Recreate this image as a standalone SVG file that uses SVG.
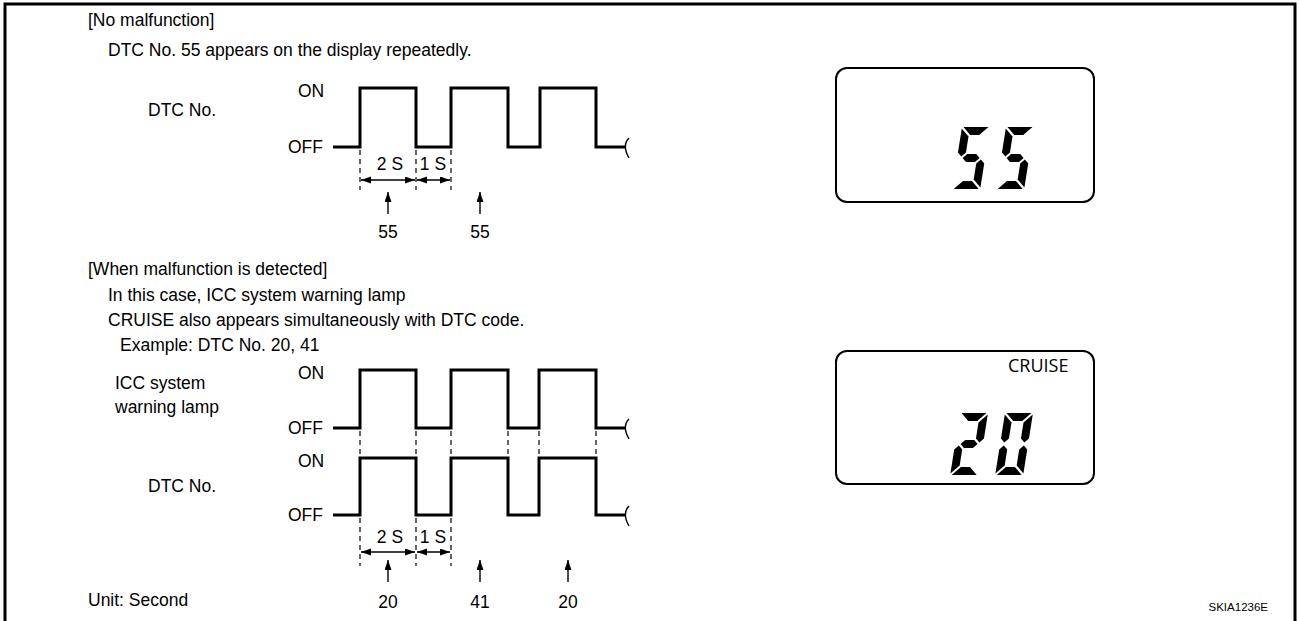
<svg xmlns="http://www.w3.org/2000/svg" width="1299" height="621" viewBox="0 0 1299 621">
<style>
  .t { font-family: "Liberation Sans", Arial, sans-serif; font-size: 17.5px; fill: #000; }
  .c { text-anchor: middle; }
  .wave { fill: none; stroke: #000; stroke-width: 3; stroke-linejoin: miter; }
  .dash { stroke: #000; stroke-width: 1.2; stroke-dasharray: 5 4; fill: none; }
  .arr { stroke: #000; stroke-width: 1.4; fill: none; }
  .brk { stroke: #000; stroke-width: 1.4; fill: none; }
  .box { fill: #fff; stroke: #000; stroke-width: 2; }
  .seg { fill: #000; }
</style>
<defs>
  <marker id="ah" markerUnits="userSpaceOnUse" markerWidth="11" markerHeight="8" refX="10" refY="3.5" orient="auto-start-reverse">
    <path d="M0,0 L10,3.5 L0,7 z" fill="#000"/>
  </marker>
  <g id="sa"><polygon points="1.5,0 26.5,0 18.5,8 9.5,8"/></g>
  <g id="sb"><polygon points="28,1.5 28,25.5 24,29.5 20,25.5 20,9.5"/></g>
  <g id="sc"><polygon points="20,36.5 24,32.5 28,36.5 28,60.5 20,52.5"/></g>
  <g id="sd"><polygon points="9.5,54 18.5,54 26.5,62 1.5,62"/></g>
  <g id="se"><polygon points="0,36.5 4,32.5 8,36.5 8,52.5 0,60.5"/></g>
  <g id="sf"><polygon points="0,1.5 8,9.5 8,25.5 4,29.5 0,25.5"/></g>
  <g id="sg"><polygon points="5.5,31 9.5,27 18.5,27 22.5,31 18.5,35 9.5,35"/></g>
  <g id="d5"><use href="#sa"/><use href="#sf"/><use href="#sg"/><use href="#sc"/><use href="#sd"/></g>
  <g id="d2"><use href="#sa"/><use href="#sb"/><use href="#sg"/><use href="#se"/><use href="#sd"/></g>
  <g id="d0"><use href="#sa"/><use href="#sb"/><use href="#sc"/><use href="#sd"/><use href="#se"/><use href="#sf"/></g>
</defs>
<rect width="1299" height="621" fill="#fff"/>
<g id="frame"><path d="M5,621 V4 H1295 V621" fill="none" stroke="#000" stroke-width="3"/></g>

<g id="section1-text">
  <text class="t" x="88" y="26">[No malfunction]</text>
  <text class="t" x="108" y="56">DTC No. 55 appears on the display repeatedly.</text>
  <text class="t" x="148" y="116">DTC No.</text>
  <text class="t" x="298" y="97">ON</text>
  <text class="t" x="288" y="153">OFF</text>
  <text class="t c" x="390" y="170">2 S</text>
  <text class="t c" x="433" y="170">1 S</text>
  <text class="t c" x="388" y="238">55</text>
  <text class="t c" x="480" y="238">55</text>
</g>

<g id="section2-text">
  <text class="t" x="88" y="275">[When malfunction is detected]</text>
  <text class="t" x="108" y="301">In this case, ICC system warning lamp</text>
  <text class="t" x="108" y="326">CRUISE also appears simultaneously with DTC code.</text>
  <text class="t" x="120" y="351">Example: DTC No. 20, 41</text>
  <text class="t" x="115" y="389">ICC system</text>
  <text class="t" x="115" y="413">warning lamp</text>
  <text class="t" x="298" y="379">ON</text>
  <text class="t" x="288" y="434">OFF</text>
  <text class="t" x="148" y="492">DTC No.</text>
  <text class="t" x="298" y="467">ON</text>
  <text class="t" x="288" y="521">OFF</text>
  <text class="t c" x="390" y="543">2 S</text>
  <text class="t c" x="433" y="543">1 S</text>
  <text class="t c" x="388" y="608">20</text>
  <text class="t c" x="480" y="608">41</text>
  <text class="t c" x="568" y="608">20</text>
  <text class="t" x="88" y="606">Unit: Second</text>
</g>

<g id="connectors">
  <path class="wave" d="M333,147 H360 V88 H416 V147 H451 V88 H508 V147 H540 V88 H596 V147 H625"/>
  <path class="brk" d="M629,138 C623,144 625,151 629,158"/>
  <path class="dash" d="M360,150 V190 M416,150 V190 M451,150 V190"/>
  <line class="arr" x1="361" y1="180" x2="415" y2="180" marker-start="url(#ah)" marker-end="url(#ah)"/>
  <line class="arr" x1="417" y1="180" x2="450" y2="180" marker-start="url(#ah)" marker-end="url(#ah)"/>
  <line class="arr" x1="388" y1="214" x2="388" y2="192" marker-end="url(#ah)"/>
  <line class="arr" x1="480" y1="214" x2="480" y2="192" marker-end="url(#ah)"/>

  <path class="wave" d="M333,428 H360 V370 H416 V428 H451 V370 H508 V428 H539 V370 H596 V428 H625"/>
  <path class="brk" d="M629,419 C623,425 625,432 629,439"/>
  <path class="dash" d="M360,431 V457 M416,431 V457 M451,431 V457 M508,431 V457 M539,431 V457 M596,431 V457"/>
  <path class="wave" d="M333,515 H360 V458 H416 V515 H451 V458 H508 V515 H539 V458 H596 V515 H625"/>
  <path class="brk" d="M629,506 C623,512 625,519 629,526"/>
  <path class="dash" d="M360,518 V566 M416,518 V566 M451,518 V566"/>
  <line class="arr" x1="361" y1="552" x2="415" y2="552" marker-start="url(#ah)" marker-end="url(#ah)"/>
  <line class="arr" x1="417" y1="552" x2="450" y2="552" marker-start="url(#ah)" marker-end="url(#ah)"/>
  <line class="arr" x1="388" y1="582" x2="388" y2="560" marker-end="url(#ah)"/>
  <line class="arr" x1="480" y1="582" x2="480" y2="560" marker-end="url(#ah)"/>
  <line class="arr" x1="568" y1="582" x2="568" y2="560" marker-end="url(#ah)"/>
</g>

<g id="display1">
  <rect class="box" x="836" y="68" width="258" height="134" rx="11"/>
  <g class="seg" transform="translate(962,127) skewX(-9)"><use href="#d5"/></g>
  <g class="seg" transform="translate(1006,127) skewX(-9)"><use href="#d5"/></g>
</g>

<g id="display2">
  <rect class="box" x="836" y="351" width="258" height="133" rx="11"/>
  <text x="1008" y="372" style="font-family:'Open Sans','Liberation Sans',sans-serif;font-size:18px;fill:#000">CRUISE</text>
  <g class="seg" transform="translate(960,413) skewX(-9)"><use href="#d2"/></g>
  <g class="seg" transform="translate(1005,413) skewX(-9)"><use href="#d0"/></g>
</g>

<g id="code"><text x="1268" y="611" text-anchor="end" style="font-family:'Liberation Sans',Arial,sans-serif;font-size:11.5px;fill:#000">SKIA1236E</text></g>
</svg>
